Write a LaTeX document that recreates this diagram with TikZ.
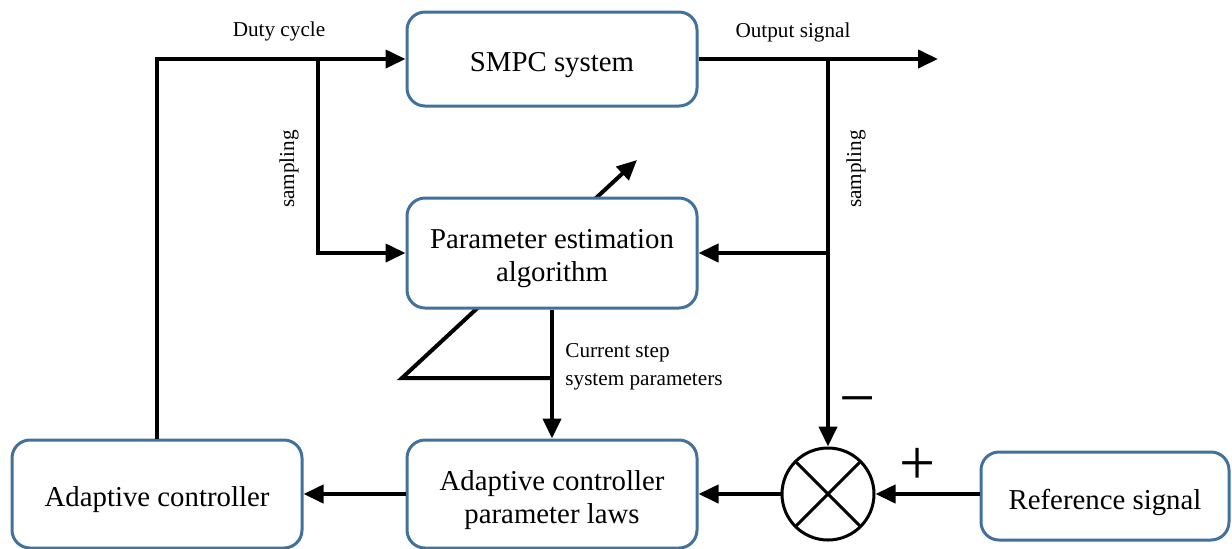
\documentclass[tikz,border=0pt]{standalone}
\usepackage{fontspec}
\setmainfont{Liberation Serif}
\usetikzlibrary{arrows.meta}
\definecolor{boxblue}{HTML}{41719C}
\tikzset{
  block/.style={draw=boxblue, line width=1.5pt, rounded corners=9pt, fill=white,
    minimum width=145pt},
  blocktext/.style={align=center, yshift=-3pt, inner sep=0pt,
    font=\fontsize{14.4}{16.5}\selectfont},
  conn/.style={line width=2pt, -{Triangle[length=10pt,width=9pt]}},
  lbl/.style={font=\fontsize{10.6}{14}\selectfont, inner sep=0pt},
  sign/.style={font=\fontsize{32}{34}\selectfont, inner sep=0pt},
  summer/.style={circle, draw, line width=1.5pt, minimum size=46pt, inner sep=0pt, fill=white,
    path picture={
      \draw[line width=1.5pt] (path picture bounding box.north west) -- (path picture bounding box.south east);
      \draw[line width=1.5pt] (path picture bounding box.north east) -- (path picture bounding box.south west);}}
}
\begin{document}
\begin{tikzpicture}[x=0.5pt, y=-0.5pt]
\useasboundingbox (0,0) rectangle (1232,548);

% adjustment arrow crossing the estimator block (drawn underneath it)
\coordinate (adjA) at (550,378);
\coordinate (adjB) at (402,378);
\coordinate (adjC) at (637,160);
\draw[conn] (adjA) -- (adjB) -- (adjC);

% blocks
\node[block, minimum height=47pt,
  label={[blocktext]center:SMPC system}] (smpc) at (552,59) {};
\node[block, minimum height=55pt,
  label={[blocktext]center:Parameter estimation\\algorithm}] (pea) at (552,253) {};
\node[block, minimum height=54pt,
  label={[blocktext]center:Adaptive controller\\parameter laws}] (acl) at (552,494) {};
\node[block, minimum height=54pt,
  label={[blocktext]center:Adaptive controller}] (ac) at (157,494) {};
\node[block, minimum width=124pt, minimum height=44pt,
  label={[blocktext]center:Reference signal}] (ref) at (1105,496) {};
\node[summer] (sum) at (828,494) {};

% branch points and free ends
\coordinate (b1) at (318,59);
\coordinate (b2) at (828,59);
\coordinate (b3) at (828,253);
\coordinate (out) at (938,59);

% connectors
\draw[conn] (ac.north) |- (smpc.west);
\draw[conn] (b1) |- (pea.west);
\draw[conn] (smpc.east) -- (out);
\draw[conn] (b2) -- (sum.north);
\draw[conn] (b3) -- (pea.east);
\draw[conn] (pea.south) -- (acl.north);
\draw[conn] (ref.west |- sum.east) -- (sum.east);
\draw[conn] (sum.west) -- (acl.east);
\draw[conn] (acl.west) -- (ac.east);

% labels
\node[lbl] (lduty) at (279,31) {Duty cycle};
\node[lbl] (lout) at (793,32) {Output signal};
\node[lbl, rotate=90] (ls1) at (289,169) {sampling};
\node[lbl, rotate=90] (ls2) at (856,169) {sampling};
\node[lbl, anchor=west, align=left] (lcur) at (565,367) {Current step\\system parameters};
\node[sign] (minus) at (858,408) {−};
\node[sign] (plus) at (918,466) {+};
\end{tikzpicture}
\end{document}
